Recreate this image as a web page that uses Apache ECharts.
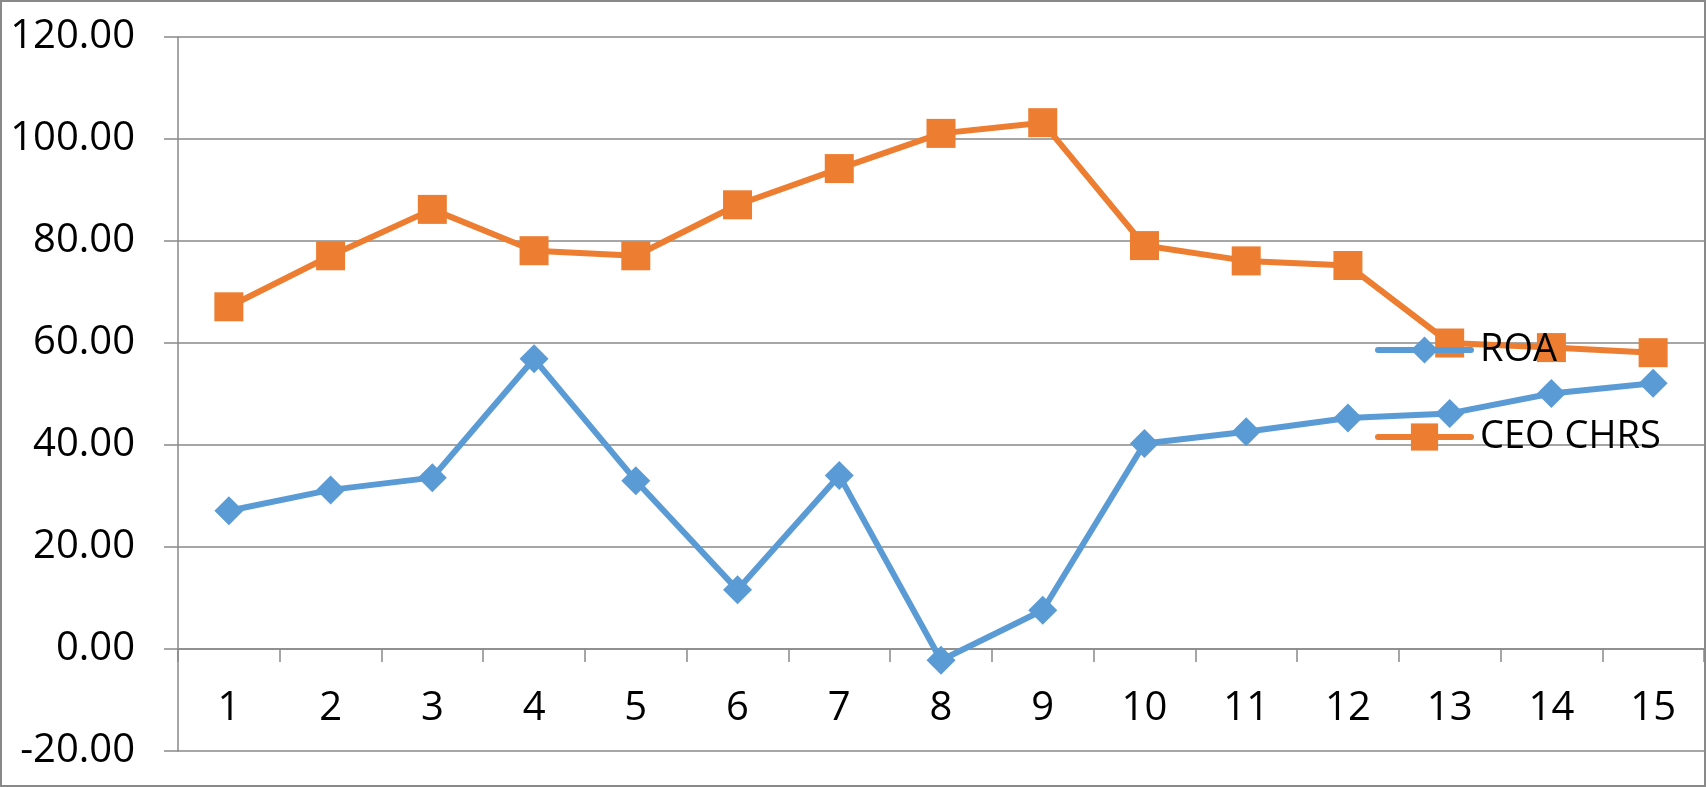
<!DOCTYPE html>
<html lang="en">
<head>
	<meta charset="UTF-8">
	<title>ROA / CEO CHRS</title>
	<style>
		html, body { margin: 0; padding: 0; background: #fff; }
		#main { width: 1706px; height: 787px; }
	</style>
</head>
<body>
	<div id="main"></div>
<script src="https://cdn.jsdelivr.net/npm/echarts@6/dist/echarts.min.js"></script>
<script>
	// 数据
	var categories = ['1', '2', '3', '4', '5', '6', '7', '8', '9', '10', '11', '12', '13', '14', '15'];
	var roa = [27.1, 31.2, 33.6, 56.9, 33.0, 11.6, 34.0, -2.2, 7.6, 40.3, 42.6, 45.3, 46.2, 50.1, 52.1];
	var ceoChrs = [67.1, 77.1, 86.2, 78.1, 77.1, 87.1, 94.2, 101.1, 103.2, 79.1, 76.1, 75.2, 60.0, 59.1, 58.1];
	var seriesNames = ['ROA', 'CEO CHRS'];

	var gray = '#898989';
	var font = 'Open Sans';

	var myChart = echarts.init(document.getElementById('main'));

	var option = {
		animation: false,
		backgroundColor: '#fff',
		graphic: [{
			type: 'rect',
			silent: true,
			z: -1,
			shape: { x: 1, y: 1, width: 1704, height: 785 },
			style: { fill: null, stroke: gray, lineWidth: 2 }
		}],
		grid: { left: 178, top: 37, right: 2, bottom: 36, containLabel: false, outerBoundsMode: 'none' },
		legend: {
			orient: 'vertical',
			left: 1370,
			top: 326,
			z: 10,
			itemWidth: 93,
			itemHeight: 34,
			itemGap: 49,
			lineStyle: { width: 6, cap: 'round' },
			textStyle: { fontFamily: font, fontSize: 38, color: '#000', lineHeight: 34, padding: [0, 0, 0, 4] },
			data: seriesNames
		},
		xAxis: {
			type: 'category',
			boundaryGap: true,
			data: categories,
			axisLine: { onZero: true, lineStyle: { color: gray, width: 1.5 } },
			axisTick: { show: true, length: 13, lineStyle: { color: gray, width: 1.5 } },
			// 标签放在0轴下方
			axisLabel: { fontFamily: font, fontSize: 40, lineHeight: 40, color: '#000', margin: -62 },
			splitLine: { show: false }
		},
		yAxis: {
			type: 'value',
			min: -20,
			max: 120,
			interval: 20,
			axisLine: { show: true, lineStyle: { color: gray, width: 1.5 } },
			axisTick: { show: true, length: 14, lineStyle: { color: gray, width: 1.5 } },
			axisLabel: {
				fontFamily: font, fontSize: 40, color: '#000', margin: 43,
				formatter: function (v) { return v.toFixed(2); }
			},
			splitLine: { show: true, lineStyle: { color: gray, width: 1.5 } }
		},
		series: [{
			name: seriesNames[0],
			type: 'line',
			data: roa,
			symbol: 'diamond',
			symbolSize: 29,
			itemStyle: { color: '#5B9BD5' },
			lineStyle: { color: '#5B9BD5', width: 6 },
			z: 2
		}, {
			name: seriesNames[1],
			type: 'line',
			data: ceoChrs,
			symbol: 'rect',
			symbolSize: 29,
			itemStyle: { color: '#ED7D31' },
			lineStyle: { color: '#ED7D31', width: 6 },
			z: 3
		}]
	};

	myChart.setOption(option);
</script>
</body>
</html>
